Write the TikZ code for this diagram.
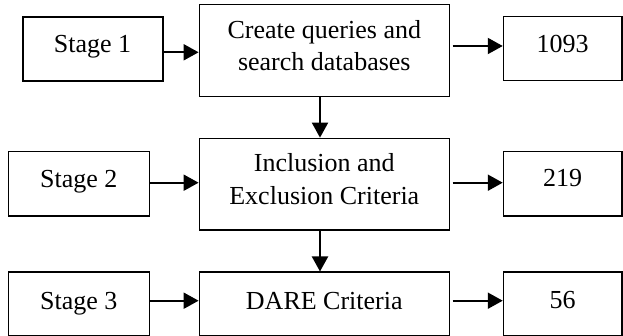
\documentclass[tikz,border=0pt]{standalone}
\usepackage{fontspec}
\setmainfont{Liberation Serif}
\usetikzlibrary{arrows.meta}
\begin{document}
\begin{tikzpicture}[x=1pt,y=-1pt,
  box/.style={draw,line width=1.4pt,inner sep=0pt},
  txt/.style={anchor=base,inner sep=0pt,font=\fontsize{26}{31}\selectfont},
  arr/.style={line width=2pt,-{Triangle[length=15pt,width=16pt]}}]
\useasboundingbox (0,0) rectangle (623,336);
% row 1
\node[box,minimum width=140pt,minimum height=64pt] (s1) at (93,49) {};
\node[box,minimum width=250pt,minimum height=92pt] (a) at (324.3,50.7) {};
\node[box,minimum width=118.5pt,minimum height=64pt] (n1) at (562.7,48.7) {};
% row 2
\node[box,minimum width=141pt,minimum height=64.3pt] (s2) at (78.8,183.8) {};
\node[box,minimum width=250pt,minimum height=91.7pt] (b) at (324.3,184.2) {};
\node[box,minimum width=118.5pt,minimum height=64.3pt] (n2) at (562.7,183.8) {};
% row 3
\node[box,minimum width=141pt,minimum height=63pt] (s3) at (78.8,303.7) {};
\node[box,minimum width=250pt,minimum height=63pt] (c) at (324.3,303.7) {};
\node[box,minimum width=118.5pt,minimum height=63pt] (n3) at (562.7,303.7) {};
% texts (placed on their baselines)
\node[txt] (ts1) at (92.5,52.3) {Stage 1};
\node[txt] (ta1) at (324.3,39) {Create queries and};
\node[txt] (ta2) at (324.3,71) {search databases};
\node[txt] (tn1) at (562.7,52.3) {1093};
\node[txt] (ts2) at (78.8,187.7) {Stage 2};
\node[txt] (tb1) at (324.3,171.7) {Inclusion and};
\node[txt] (tb2) at (324.3,204.3) {Exclusion Criteria};
\node[txt] (tn2) at (562.7,186.7) {219};
\node[txt] (ts3) at (78.8,309.3) {Stage 3};
\node[txt] (tc) at (324.3,309) {DARE Criteria};
\node[txt] (tn3) at (562.7,308.5) {56};
% helper coordinates
\coordinate (y1) at (0,52.3);
\coordinate (y1r) at (0,46);
\coordinate (y2) at (0,182.7);
\coordinate (y3) at (0,300.7);
\coordinate (xv) at (320,0);
% arrows
\draw[arr] (s1.east |- y1) -- (a.west |- y1);
\draw[arr,shorten <=2.5pt] (a.east |- y1r) -- (n1.west |- y1r);
\draw[arr] (a.south -| xv) -- (b.north -| xv);
\draw[arr] (s2.east |- y2) -- (b.west |- y2);
\draw[arr,shorten <=2.5pt] (b.east |- y2) -- (n2.west |- y2);
\draw[arr] (b.south -| xv) -- (c.north -| xv);
\draw[arr] (s3.east |- y3) -- (c.west |- y3);
\draw[arr,shorten <=2.5pt] (c.east |- y3) -- (n3.west |- y3);
\end{tikzpicture}
\end{document}
